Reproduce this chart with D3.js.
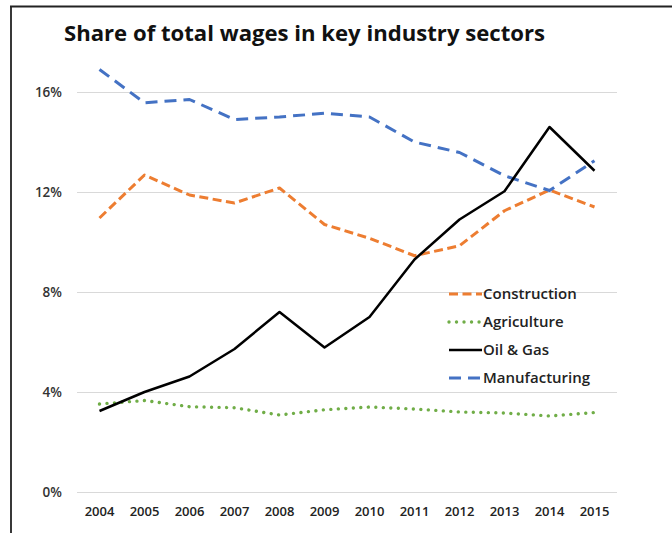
<!DOCTYPE html>
<html>
<head>
<meta charset="utf-8">
<script src="https://cdn.jsdelivr.net/npm/d3@7/dist/d3.min.js"></script>
<style>
  html, body { margin: 0; padding: 0; background: #fff; }
  svg { display: block; }
  text { font-family: "Open Sans", "Liberation Sans", Arial, sans-serif; }
</style>
</head>
<body>
<svg id="chart" width="672" height="533"></svg>
<script>
const years = ["2004","2005","2006","2007","2008","2009","2010","2011","2012","2013","2014","2015"];
const construction = [10.96, 12.68, 11.88, 11.56, 12.16, 10.70, 10.15, 9.45, 9.85, 11.25, 12.08, 11.40];
const agriculture  = [3.52, 3.66, 3.41, 3.37, 3.08, 3.29, 3.40, 3.32, 3.20, 3.16, 3.04, 3.18];
const oilGas       = [3.24, 4.00, 4.62, 5.72, 7.20, 5.78, 7.00, 9.30, 10.90, 12.03, 14.60, 12.85];
const manufacturing= [16.90, 15.57, 15.70, 14.90, 15.00, 15.15, 15.00, 14.00, 13.58, 12.65, 12.06, 13.25];
const yTicks = [0, 4, 8, 12, 16];
const seriesNames = ["Construction", "Agriculture", "Oil & Gas", "Manufacturing"];

const series = [
  { name: seriesNames[0], values: construction, color: "#ed7d31", width: 3, dash: "9,4.5", cap: "butt" },
  { name: seriesNames[1], values: agriculture, color: "#70ad47", width: 3.4, dash: "0.01,7.5", cap: "round" },
  { name: seriesNames[2], values: oilGas, color: "#000000", width: 2.5, dash: null, cap: "butt" },
  { name: seriesNames[3], values: manufacturing, color: "#4472c4", width: 3, dash: "12,7", cap: "butt" }
];

const svg = d3.select("#chart");

// frame
svg.append("line").attr("x1", 11).attr("x2", 11).attr("y1", 6).attr("y2", 533)
  .attr("stroke", "#222").attr("stroke-width", 1.8);
svg.append("line").attr("x1", 10).attr("x2", 672).attr("y1", 6.5).attr("y2", 6.5)
  .attr("stroke", "#222").attr("stroke-width", 1.8);

// title
svg.append("text").attr("x", 64).attr("y", 40.5)
  .attr("font-size", 21).attr("font-weight", "bold").attr("fill", "#111")
  .attr("textLength", 481).attr("lengthAdjust", "spacingAndGlyphs")
  .text("Share of total wages in key industry sectors");

const x = d3.scaleBand().domain(years).range([77, 617]);
const y = d3.scaleLinear().domain([0, 16]).range([492, 92]);

// gridlines
svg.append("g").selectAll("line").data(yTicks).join("line")
  .attr("x1", 77).attr("x2", 617)
  .attr("y1", d => y(d) + 0.5).attr("y2", d => y(d) + 0.5)
  .attr("stroke", "#d9d9d9").attr("stroke-width", 1);

const labelFont = "'Open Sans', 'Liberation Sans', Arial, sans-serif";

// y axis
const yAxis = svg.append("g").attr("transform", "translate(62,0)")
  .call(d3.axisLeft(y).tickValues(yTicks).tickSize(0).tickPadding(0).tickFormat(d => d + "%"));
yAxis.select(".domain").remove();
yAxis.selectAll("text").attr("font-size", 13.5).attr("font-weight", 600).attr("fill", "#333")
  .attr("font-family", labelFont);

// x axis
const xAxis = svg.append("g").attr("transform", "translate(0,504)")
  .call(d3.axisBottom(x).tickSize(0).tickPadding(3));
xAxis.select(".domain").remove();
xAxis.selectAll("text").attr("font-size", 13).attr("font-weight", 600).attr("fill", "#222")
  .attr("font-family", labelFont);

// lines
const line = d3.line()
  .x((d, i) => x(years[i]) + x.bandwidth() / 2)
  .y(d => y(d));

const drawOrder = [1, 0, 3, 2];
drawOrder.forEach(k => {
  const s = series[k];
  svg.append("path").datum(s.values)
    .attr("d", line)
    .attr("fill", "none")
    .attr("stroke", s.color)
    .attr("stroke-width", s.width)
    .attr("stroke-dasharray", s.dash)
    .attr("stroke-linecap", s.cap)
    .attr("stroke-linejoin", "round");
});

// legend
const legendY = d3.scalePoint().domain(seriesNames).range([294, 378]);
const lg = svg.append("g");
series.forEach(s => {
  const yy = legendY(s.name);
  lg.append("line").attr("x1", 449).attr("x2", 482).attr("y1", yy).attr("y2", yy)
    .attr("stroke", s.color).attr("stroke-width", s.width)
    .attr("stroke-dasharray", s.dash).attr("stroke-linecap", s.cap);
  lg.append("text").attr("x", 483).attr("y", yy).attr("dy", "0.36em")
    .attr("font-size", 15).attr("font-weight", 600).attr("fill", "#222").text(s.name);
});
</script>
</body>
</html>
